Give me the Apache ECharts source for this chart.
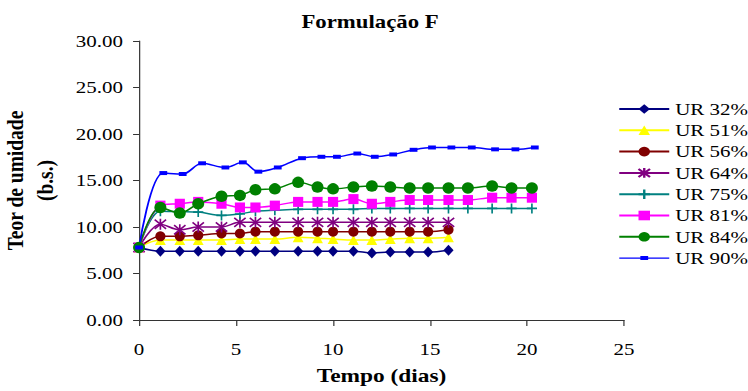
<!DOCTYPE html>
<html>
<head>
<meta charset="utf-8">
<script src="https://cdn.jsdelivr.net/npm/echarts@6/dist/echarts.min.js"></script>
<style>
  html, body { margin: 0; padding: 0; background: #fff; overflow: hidden; }
  /* the reference is an Excel chart stretched ~1.2x horizontally */
  #chart { width: 624px; height: 391px; transform: scaleX(1.19872); transform-origin: 0 0; }
</style>
</head>
<body>
<div id="chart"></div>
<script>
// tempos (dias)
const tShort = [0, 1.1, 2.1, 3.05, 4.25, 5.2, 6.0, 7.0, 8.2, 9.2, 10.0, 11.05, 12.0, 12.95, 13.95, 14.9, 15.95];
const tLong = [0, 1.1, 2.1, 3.05, 4.25, 5.2, 6.0, 7.0, 8.2, 9.2, 10.0, 11.05, 12.0, 12.95, 13.95, 14.9, 15.95, 16.95, 18.2, 19.2, 20.25];
const tUR90 = [0, 1.25, 2.25, 3.25, 4.45, 5.35, 6.15, 7.15, 8.4, 9.4, 10.2, 11.25, 12.15, 13.1, 14.15, 15.1, 16.1, 17.15, 18.35, 19.4, 20.4];

// teor de umidade (b.s.)
const ur32 = [7.8, 7.4, 7.4, 7.4, 7.4, 7.4, 7.4, 7.4, 7.4, 7.4, 7.4, 7.4, 7.2, 7.3, 7.3, 7.3, 7.5];
const ur51 = [7.8, 8.6, 8.6, 8.6, 8.6, 8.7, 8.7, 8.7, 8.9, 8.8, 8.7, 8.6, 8.6, 8.7, 8.8, 8.8, 8.9];
const ur56 = [7.8, 9.0, 9.0, 9.1, 9.3, 9.3, 9.5, 9.5, 9.5, 9.5, 9.5, 9.5, 9.5, 9.5, 9.5, 9.5, 9.7];
const ur64 = [7.8, 10.3, 9.7, 10.0, 10.0, 10.5, 10.5, 10.5, 10.5, 10.5, 10.5, 10.5, 10.5, 10.5, 10.5, 10.5, 10.5];
const ur75 = [7.8, 11.7, 11.65, 11.6, 11.25, 11.4, 11.7, 11.8, 11.9, 11.9, 11.9, 11.9, 12.0, 12.0, 12.0, 12.0, 12.0, 12.0, 12.0, 12.0, 12.0];
const ur81 = [7.8, 12.3, 12.5, 12.7, 12.5, 12.1, 12.1, 12.3, 12.7, 12.7, 12.7, 13.0, 12.5, 12.7, 12.9, 12.9, 12.9, 12.9, 13.15, 13.15, 13.15];
const ur84 = [7.8, 12.1, 11.5, 12.5, 13.3, 13.4, 14.0, 14.1, 14.8, 14.3, 14.1, 14.3, 14.4, 14.3, 14.2, 14.2, 14.2, 14.2, 14.4, 14.2, 14.2];
const ur90 = [7.8, 15.8, 15.7, 16.85, 16.4, 16.95, 15.95, 16.4, 17.4, 17.55, 17.55, 17.9, 17.55, 17.8, 18.3, 18.55, 18.55, 18.55, 18.35, 18.35, 18.55];

const FONT = "'Liberation Serif', 'Times New Roman', serif";
const asterisk = "path://M0,0L10,10M10,0L0,10M5,-1L5,11";
const cross = "path://M5,0L5,10M0,5L10,5";
// legenda do UR 90%: linha + traço pequeno
const dashIcon = "path://M0,0M41.7,12M0,5.3L41.7,5.3L41.7,6.7L0,6.7ZM17.6,4L24.1,4L24.1,8L17.6,8Z";

function pairs(t, v) {
  return v.map((y, i) => [t[i], y]);
}

function serie(name, t, v, color, symbol, size, extra) {
  return Object.assign({
    name: name,
    type: "line",
    data: pairs(t, v),
    smooth: 0.35,
    symbol: symbol,
    symbolSize: size,
    lineStyle: { color: color, width: 1.5 },
    itemStyle: { color: color },
  }, extra || {});
}

const chart = echarts.init(document.getElementById("chart"), null, { renderer: "svg" });
const option = {
  animation: false,
  backgroundColor: "#fff",
  title: {
    text: "Formulação F",
    left: 308.7,
    textAlign: "center",
    top: 12,
    padding: 0,
    textStyle: { fontFamily: FONT, fontSize: 19, fontWeight: "bold", color: "#000" },
  },
  legend: {
    orient: "vertical",
    left: 515.6,
    top: 100,
    padding: 0,
    itemWidth: 41.7,
    itemHeight: 12,
    itemGap: 3.3,
    textStyle: { fontFamily: FONT, fontSize: 17.5, lineHeight: 18, color: "#000" },
    data: [
      "UR 32%", "UR 51%", "UR 56%", "UR 64%", "UR 75%", "UR 81%", "UR 84%",
      { name: "UR 90%", icon: dashIcon },
    ],
  },
  grid: { left: 116, right: 103.4, top: 41, bottom: 71, containLabel: false, outerBoundsMode: "none" },
  xAxis: {
    type: "value",
    min: 0,
    max: 25,
    interval: 5,
    name: "Tempo (dias)",
    nameLocation: "middle",
    nameGap: 46,
    nameTextStyle: { fontFamily: FONT, fontSize: 19.5, fontWeight: "bold", color: "#000" },
    axisLine: { lineStyle: { color: "#333", width: 1 } },
    axisTick: { length: 6, lineStyle: { color: "#333" } },
    axisLabel: { fontFamily: FONT, fontSize: 17.5, color: "#000", margin: 20 },
    splitLine: { show: false },
  },
  yAxis: {
    type: "value",
    min: 0,
    max: 30,
    interval: 5,
    name: "Teor de umidade\n(b.s.)",
    nameLocation: "middle",
    nameRotate: 90,
    nameGap: 66,
    nameTextStyle: { fontFamily: FONT, fontSize: 19.5, fontWeight: "bold", color: "#000", lineHeight: 25 },
    axisLine: { show: true, lineStyle: { color: "#333", width: 1 } },
    axisTick: { show: true, length: 5, lineStyle: { color: "#333" } },
    axisLabel: {
      fontFamily: FONT, fontSize: 17.5, color: "#000", margin: 13.5,
      formatter: (v) => v.toFixed(2),
    },
    splitLine: { show: false },
  },
  series: [
    serie("UR 32%", tShort, ur32, "#000080", "diamond", [8.5, 11]),
    serie("UR 51%", tShort, ur51, "#FFFF00", "triangle", [9, 10]),
    serie("UR 56%", tShort, ur56, "#800000", "circle", [8.5, 10]),
    serie("UR 64%", tShort, ur64, "#800080", asterisk, [9.5, 11],
      { itemStyle: { color: "none", borderColor: "#800080", borderWidth: 1.5 } }),
    serie("UR 75%", tLong, ur75, "#008080", cross, [8.5, 10],
      { itemStyle: { color: "none", borderColor: "#008080", borderWidth: 1.5 } }),
    serie("UR 81%", tLong, ur81, "#FF00FF", "rect", [8.5, 10]),
    serie("UR 84%", tLong, ur84, "#008000", "circle", [10, 11.5]),
    serie("UR 90%", tUR90, ur90, "#0000FF", "rect", [6.5, 4]),
  ],
};
option && chart.setOption(option);
</script>
</body>
</html>
